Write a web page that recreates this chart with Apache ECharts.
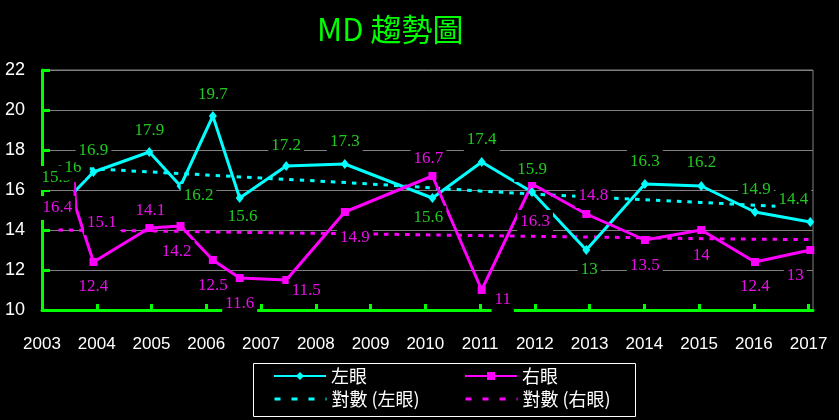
<!DOCTYPE html>
<html><head><meta charset="utf-8">
<script src="https://cdn.jsdelivr.net/npm/echarts@6/dist/echarts.min.js"></script>
<style>html,body{margin:0;padding:0;background:#000}#c{width:839px;height:420px}</style>
</head><body><div id="c"></div>
<script>
// ---- data ----
const chartTitle = 'MD 趨勢圖';
const examDates = [2003.59, 2003.62, 2003.94, 2004.96, 2005.53, 2006.12, 2006.61, 2007.46, 2008.53, 2010.13, 2011.03, 2011.95, 2012.94, 2014.01, 2015.04, 2016.02, 2017.03];
const leftEye  = [15.9, 16, 16.9, 17.9, 16.2, 19.7, 15.6, 17.2, 17.3, 15.6, 17.4, 15.9, 13, 16.3, 16.2, 14.9, 14.4];
const rightEye = [16.4, 15.1, 12.4, 14.1, 14.2, 12.5, 11.6, 11.5, 14.9, 16.7, 11, 16.3, 14.8, 13.5, 14, 12.4, 13];
const trendDates = [2003.3, 2005, 2007, 2009, 2011, 2013, 2015, 2017.08];
const leftTrend  = [17.15, 16.9, 16.6, 16.3, 15.95, 15.65, 15.38, 15.1];
const rightTrend = [14.0, 13.95, 13.87, 13.8, 13.72, 13.65, 13.57, 13.52];
const xTickYears = [2003, 2004, 2005, 2006, 2007, 2008, 2009, 2010, 2011, 2012, 2013, 2014, 2015, 2016, 2017];
const yTickValues = [10, 12, 14, 16, 18, 20, 22];
const seriesNames = ['左眼', '右眼', '對數 (左眼)', '對數 (右眼)'];

// ---- label placement / marker style (px offsets from the point) ----
const leftLabelOffset = [[-18,-14],[-3,-22],[0,-21],[0,-21],[18,10],[0,-21],[3,19],[0,-20],[0,-22],[-4,20],[0,-22],[0,-22],[3,20],[0,-22],[0,-23],[1,-22],[-17,-22]];
const rightLabelOffset = [[-17,26],[26,15],[0,25],[1,-17],[-4,26],[0,26],[0,26],[20,11],[10,26],[-4,-17],[21,10],[3,38],[7,-18],[0,26],[0,26],[0,25],[-15,26]];
const hiddenMarkers = [0, 1];

const GREEN = '#00ff00', CYAN = '#00ffff', MAG = '#ff00ff';
const labelFont = 'Liberation Serif';

function lineData(ys) {
  return examDates.map((x, i) => hiddenMarkers.includes(i)
    ? { value: [x, ys[i]], symbol: 'none' }
    : { value: [x, ys[i]] });
}

function labelSeries(name, ys, offsets, color) {
  return {
    name: name, type: 'scatter', z: 10, silent: true,
    symbol: 'circle', symbolSize: 1,
    itemStyle: { color: 'rgba(0,0,0,0)', opacity: 1 },
    emphasis: { disabled: true },
    data: examDates.map((x, i) => ({
      value: [x, ys[i]],
      label: { offset: offsets[i] }
    })),
    label: {
      show: true, position: 'inside', color: color, opacity: 1,
      fontFamily: labelFont, fontSize: 17, lineHeight: 17,
      backgroundColor: '#000', padding: [3, 3, 4, 3],
      formatter: p => String(p.value[1])
    }
  };
}

const chart = echarts.init(document.getElementById('c'), null, { renderer: 'canvas' });
const legendBase = {
  orient: 'horizontal', itemWidth: 52, itemHeight: 10, itemGap: 0, padding: 0,
  textStyle: { color: '#fff', fontSize: 18, fontFamily: 'Noto Sans CJK TC' },
  selectedMode: false
};
const noSymbol = { color: 'rgba(0,0,0,0)', borderWidth: 0, opacity: 0 };
chart.setOption({
  backgroundColor: '#000',
  animation: false,
  title: {
    text: chartTitle, left: 312, top: 9,
    textStyle: { color: GREEN, fontSize: 31, fontWeight: 'normal', fontFamily: 'Noto Sans CJK TC' }
  },
  grid: { left: 42, right: 26, top: 70, bottom: 110, show: true, borderColor: '#808080', borderWidth: 1, backgroundColor: 'transparent' },
  xAxis: {
    type: 'value', min: 2003, max: 2017.08, interval: 1,
    axisLine: { show: true, onZero: false, lineStyle: { color: GREEN, width: 3 } },
    axisTick: { show: true, inside: true, length: 6, lineStyle: { color: GREEN, width: 3 }, customValues: xTickYears },
    axisLabel: { color: '#fff', fontSize: 17, fontFamily: 'Liberation Sans', margin: 26, customValues: xTickYears, formatter: v => String(v) },
    splitLine: { show: false }
  },
  yAxis: {
    type: 'value', min: 10, max: 22, interval: 2,
    axisLine: { show: true, lineStyle: { color: GREEN, width: 3 } },
    axisTick: { show: true, inside: true, length: 8, lineStyle: { color: GREEN, width: 3 } },
    axisLabel: { color: '#fff', fontSize: 18, fontFamily: 'Liberation Sans', margin: 17, customValues: yTickValues },
    splitLine: { show: true, lineStyle: { color: '#808080', width: 1 } }
  },
  legend: [
    Object.assign({}, legendBase, { data: [seriesNames[0]], left: 273, top: 367 }),
    Object.assign({}, legendBase, { data: [seriesNames[1]], left: 464, top: 367 }),
    Object.assign({}, legendBase, { data: [{ name: seriesNames[2], itemStyle: noSymbol }], left: 273, top: 390, lineStyle: { type: [6, 11], width: 3 } }),
    Object.assign({}, legendBase, { data: [{ name: seriesNames[3], itemStyle: noSymbol }], left: 464, top: 390, lineStyle: { type: [6, 11], width: 3 } })
  ],
  graphic: [{
    type: 'rect', shape: { x: 253.5, y: 363.5, width: 382, height: 53 },
    style: { fill: 'none', stroke: '#fff', lineWidth: 1 }, silent: true
  }],
  series: [
    {
      name: seriesNames[2], type: 'line', z: 2, smooth: true, symbol: 'none',
      data: trendDates.map((x, i) => [x, leftTrend[i]]),
      lineStyle: { color: CYAN, width: 3, type: [4.5, 6] }, itemStyle: { color: CYAN }
    },
    {
      name: seriesNames[3], type: 'line', z: 2, smooth: true, symbol: 'none',
      data: trendDates.map((x, i) => [x, rightTrend[i]]),
      lineStyle: { color: MAG, width: 3, type: [4.5, 6] }, itemStyle: { color: MAG }
    },
    {
      name: seriesNames[0], type: 'line', z: 3, symbol: 'diamond', symbolSize: [8, 10],
      data: lineData(leftEye),
      lineStyle: { color: CYAN, width: 3 }, itemStyle: { color: CYAN }
    },
    {
      name: seriesNames[1], type: 'line', z: 3, symbol: 'rect', symbolSize: 8,
      data: lineData(rightEye),
      lineStyle: { color: MAG, width: 3 }, itemStyle: { color: MAG }
    },
    labelSeries('leftLabels', leftEye, leftLabelOffset, '#22c822'),
    labelSeries('rightLabels', rightEye, rightLabelOffset, '#e810e8')
  ]
});
</script>
</body></html>
